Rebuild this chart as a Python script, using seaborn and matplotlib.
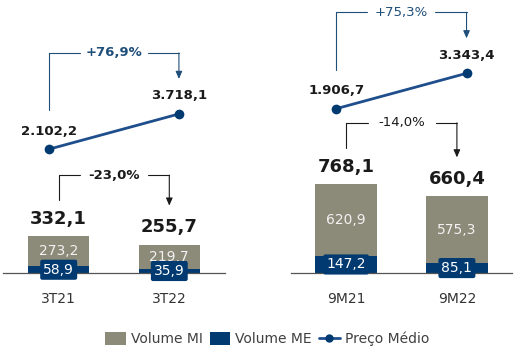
import matplotlib
matplotlib.use("Agg")
import matplotlib.pyplot as plt
import seaborn as sns
import pandas as pd
import numpy as np
from matplotlib.patches import Patch, FancyArrowPatch
from matplotlib.lines import Line2D

# ---------------- data ----------------
cats_left = ["3T21", "3T22"]
cats_right = ["9M21", "9M22"]
mi_left = [273.2, 219.7]
me_left = [58.9, 35.9]
tot_left = [332.1, 255.7]
mi_right = [620.9, 575.3]
me_right = [147.2, 85.1]
tot_right = [768.1, 660.4]
preco_left = [2102.2, 3718.1]
preco_right = [1906.7, 3343.4]
var_preco = ["+76,9%", "+75,3%"]
var_vol = ["-23,0%", "-14,0%"]
legend_labels = ["Volume MI", "Volume ME", "Preço Médio"]

# ---------------- style ----------------
W, H, DPI = 529, 362, 100
GRAY = "#8c8a78"
BLUE = "#003a70"
LINEBLUE = "#1f4e8c"
BRBLUE = "#1f4e79"
TXT = "#1a1a1a"
FONT = ["DejaVu Sans"]

sns.set_theme(style="white")
plt.rcParams["font.family"] = FONT

fig = plt.figure(figsize=(W / DPI, H / DPI), dpi=DPI)
fig.patch.set_facecolor("white")


def fmt(v, dec=1):
    s = f"{v:,.{dec}f}"
    return s.replace(",", "X").replace(".", ",").replace("X", ".")


def px2fig(x, y):
    return fig.transFigure.inverted().transform((x, y))


def bracket(x0, x1, y_start, y_top, y_end, text, color, bold):
    # all in display pixels (origin bottom-left)
    xm = (x0 + x1) / 2
    gap = 34
    pts = [(x0, y_start), (x0, y_top), (xm - gap, y_top)]
    f = [px2fig(*p) for p in pts]
    fig.add_artist(Line2D([p[0] for p in f], [p[1] for p in f], color=color,
                          lw=0.8, transform=fig.transFigure))
    f2 = [px2fig(*p) for p in [(xm + gap, y_top), (x1, y_top)]]
    fig.add_artist(Line2D([p[0] for p in f2], [p[1] for p in f2], color=color,
                          lw=0.8, transform=fig.transFigure))
    a = px2fig(x1, y_top)
    b = px2fig(x1, y_end)
    fig.add_artist(FancyArrowPatch(
        a, b, transform=fig.transFigure,
        arrowstyle="-|>,head_length=3.2,head_width=1.4",
        color=color, lw=0.8, shrinkA=0, shrinkB=0, mutation_scale=1.4))
    t = px2fig(xm, y_top)
    fig.text(t[0], t[1], text, ha="center", va="center", color=color,
             fontsize=9.5, fontweight="bold" if bold else "normal")


def panel(left_px, width_px, cats, mi, me, tot, preco, ylim_bar, ylim_line,
          vtxt_p, vtxt_v, bold_br):
    bottom = 1 - 273 / H
    ax = fig.add_axes([left_px / W, bottom, width_px / W, 273 / H])
    df = pd.DataFrame({"cat": cats, "tot": tot, "me": me, "mi": mi})
    sns.barplot(data=df, x="cat", y="tot", color=GRAY, width=0.554,
                saturation=1, ax=ax, edgecolor="none")
    sns.barplot(data=df, x="cat", y="me", color=BLUE, width=0.554,
                saturation=1, ax=ax, edgecolor="none")
    ax.set_xlim(-0.5, 1.5)
    ax.set_ylim(0, ylim_bar)
    ax.set_xlabel("")
    ax.set_ylabel("")
    ax.set_yticks([])
    for s in ["top", "left", "right"]:
        ax.spines[s].set_visible(False)
    ax.spines["bottom"].set_color("#555555")
    ax.spines["bottom"].set_linewidth(0.9)
    ax.tick_params(axis="x", length=0, pad=14, labelsize=10, labelcolor="#333333")
    ax.patch.set_alpha(0)

    for i in range(len(cats)):
        ax.text(i, me[i] + mi[i] / 2, fmt(mi[i]), ha="center", va="center",
                color="#f2f2f2", fontsize=10)
        ax.text(i, me[i] / 2, fmt(me[i]), ha="center", va="center",
                color="white", fontsize=10,
                bbox=dict(boxstyle="round,pad=0.22,rounding_size=0.15",
                          fc=BLUE, ec="none"))
        ax.annotate(fmt(tot[i]), (i, tot[i]), xytext=(0, 12.5),
                    textcoords="offset points", ha="center", va="center",
                    fontsize=13, fontweight="bold", color=TXT)

    ax2 = ax.twinx()
    ax2.set_ylim(*ylim_line)
    ax2.set_xlim(-0.5, 1.5)
    xs = np.arange(len(cats)) + np.array([-0.09, 0.087])
    ldf = pd.DataFrame({"x": xs, "y": preco})
    sns.lineplot(data=ldf, x="x", y="y", ax=ax2, color=LINEBLUE, lw=2,
                 marker="o", markersize=7, markeredgewidth=0,
                 markerfacecolor=BLUE)
    ax2.set_axis_off()
    for xi, v in zip(xs, preco):
        ax2.annotate(fmt(v), (xi, v), xytext=(0, 13), textcoords="offset points",
                     ha="center", va="center", fontsize=9.5, fontweight="bold",
                     color=TXT)

    # brackets
    p = [ax2.transData.transform((xi, v)) for xi, v in zip(xs, preco)]
    bracket(p[0][0], p[1][0], p[0][1] + 39, p[1][1] + 61, p[1][1] + 35,
            vtxt_p, BRBLUE, bold_br)
    q = [ax.transData.transform((i, t)) for i, t in enumerate(tot)]
    bracket(q[0][0], q[1][0], q[0][1] + 36, q[0][1] + 61, q[1][1] + 39,
            vtxt_v, TXT, bold_br)
    return ax


panel(3.4, 221.2, cats_left, mi_left, me_left, tot_left, preco_left,
      273 / 0.111, (-3561, 8933), var_preco[0], var_vol[0], True)
panel(290.7, 221.6, cats_right, mi_right, me_right, tot_right, preco_right,
      273 / 0.116, (-4761, 6319), var_preco[1], var_vol[1], False)

handles = [Patch(fc=GRAY, ec="none"), Patch(fc=BLUE, ec="none"),
           Line2D([0], [0], color=LINEBLUE, lw=2, marker="o", markersize=6,
                  markerfacecolor=BLUE, markeredgewidth=0)]
fig.legend(handles, legend_labels, loc="center", bbox_to_anchor=(267 / W, 1 - 339 / H),
           ncol=3, frameon=False, fontsize=10, handlelength=1.5, handleheight=1.0,
           handletextpad=0.35, columnspacing=0.5, labelcolor="#404040")

fig.savefig("out.png", dpi=DPI, facecolor="white")
